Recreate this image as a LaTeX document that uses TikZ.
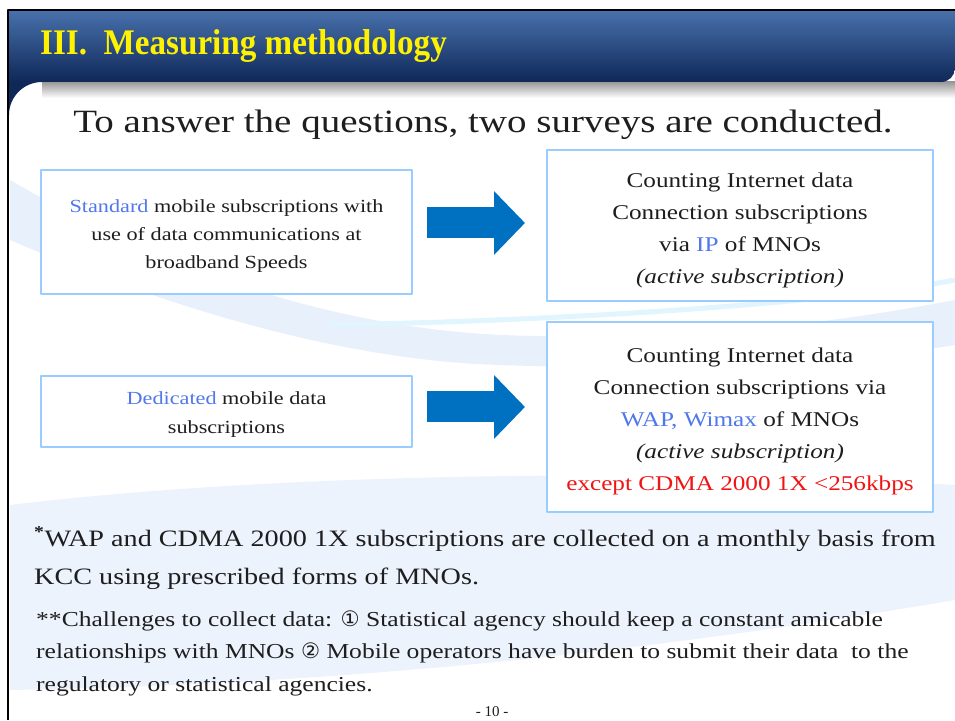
\documentclass[tikz,border=0pt]{standalone}
\usepackage{fontspec}
\setmainfont{Liberation Serif}
\newfontfamily\batang[FakeStretch=1.2]{Liberation Serif}
\newfontfamily\headfont[FakeStretch=0.92]{Liberation Serif}
\newfontfamily\symfont{DejaVu Sans}
\usetikzlibrary{arrows.meta,positioning}
\definecolor{bandtop}{RGB}{72,112,172}
\definecolor{bandmid}{RGB}{26,72,142}
\definecolor{bandbot}{RGB}{14,40,88}
\definecolor{boxline}{RGB}{153,204,255}
\definecolor{arrowblue}{RGB}{0,112,192}
\definecolor{keyblue}{RGB}{80,120,235}
\definecolor{keyred}{RGB}{240,20,20}
\definecolor{ink}{RGB}{30,30,30}
\definecolor{swooshblue}{RGB}{232,240,252}
\newcommand{\kw}[1]{\textcolor{keyblue}{#1}}

\begin{document}
\begin{tikzpicture}[x=1pt,y=1pt,line join=round,
	box/.style={draw=boxline,line width=2pt,fill=white,inner sep=0pt},
	boxtext/.style={align=center,text=ink,inner sep=0pt},
	bigarrow/.style={arrowblue,line width=31pt,-{Triangle[length=31pt,width=62pt]}},
	note/.style={anchor=base west,text=ink,inner sep=0pt}]
	\useasboundingbox (0,0) rectangle (955,720);
	\fill[white] (0,0) rectangle (955,720);
	% background swooshes
	\fill[swooshblue] (10,540) .. controls (130,470) and (300,395) .. (500,385) .. controls (700,378) and (850,400) .. (955,420) -- (955,375) .. controls (800,350) and (650,350) .. (500,355) .. controls (330,360) and (150,420) .. (10,480) -- cycle;
	\draw[cyan!12,line width=5pt] (330,395) .. controls (600,400) and (850,420) .. (955,440);
	\fill[swooshblue!80] (10,215) .. controls (300,250) and (700,250) .. (955,235) -- (955,120) .. controls (600,60) and (300,35) .. (10,30) -- cycle;
	%\draw[gray!30] (0,0) grid[step=50] (955,720);
	% header band
	\fill[bandbot] (9,638) -- (9,605) arc[start angle=180,end angle=90,radius=33] -- cycle;
	\shade[top color=black!40,bottom color=white] (42,638) rectangle (955,622);
	\shade[top color=bandtop,middle color=bandmid,bottom color=bandbot] (9,638) -- (9,709) -- (955,709) -- (955,652) arc[start angle=0,end angle=-90,radius=14] -- cycle;
	\draw[line width=2pt] (8,0) -- (8,710) -- (955,710);
	\node[anchor=base west,text=yellow,inner sep=0pt,font=\headfont\bfseries\fontsize{36}{36}\selectfont] (ttl) at (40,665) {III.\ \ Measuring methodology};
	\node[anchor=base,text=ink,inner sep=0pt,font=\batang\fontsize{32.5}{32.5}\selectfont] (sub) at (483,587) {To answer the questions, two surveys are conducted.};
	% boxes
	\node[box,minimum width=371pt,minimum height=124pt] (sA) at (226.5,488) {};
	\node[box,minimum width=386pt,minimum height=151pt] (iA) at (740,494.5) {};
	\node[box,minimum width=371pt,minimum height=71pt] (sB) at (226.5,308.5) {};
	\node[box,minimum width=386pt,minimum height=190pt] (iB) at (740,303) {};
	\node[boxtext,font=\batang\fontsize{18.5}{28}\selectfont] (sAt) at ([yshift=-4pt]sA.center) {\kw{Standard} mobile subscriptions with\\use of data communications at\\broadband Speeds};
	\node[boxtext,font=\batang\fontsize{21}{32}\selectfont] (iAt) at ([yshift=-5pt]iA.center) {Counting Internet data\\Connection subscriptions\\via \kw{IP} of MNOs\\\textit{(active subscription)}};
	\node[boxtext,font=\batang\fontsize{18.5}{29}\selectfont] (sBt) at ([yshift=-3pt]sB.center) {\kw{Dedicated} mobile data\\subscriptions};
	\node[boxtext,font=\batang\fontsize{21}{32}\selectfont] (iBt) at ([yshift=-4pt]iB.center) {Counting Internet data\\Connection subscriptions via\\\kw{WAP, Wimax} of MNOs\\\textit{(active subscription)}\\\textcolor{keyred}{except CDMA 2000 1X <256kbps}};
	\draw[bigarrow] ([shift={(14,9)}]sA.east) -- ([shift={(-21,2.5)}]iA.west);
	\draw[bigarrow] ([shift={(14,4.5)}]sB.east) -- ([shift={(-21,10)}]iB.west);
	% notes
	\node[note,font=\batang\fontsize{23.5}{23.5}\selectfont] (fnA) at (34,173) {\textsuperscript{\textbf{*}}WAP and CDMA 2000 1X subscriptions are collected on a monthly basis from};
	\node[note,font=\batang\fontsize{23.5}{23.5}\selectfont] (fnB) at (34,135) {KCC using prescribed forms of MNOs.};
	\node[note,font=\batang\fontsize{21.3}{21.3}\selectfont] (fnC) at (36,94) {**Challenges to collect data: {\symfont ①} Statistical agency should keep a constant amicable};
	\node[note,font=\batang\fontsize{21.3}{21.3}\selectfont] (fnD) at (36,62) {relationships with MNOs {\symfont ②} Mobile operators have burden to submit their data\ \ to the};
	\node[note,font=\batang\fontsize{21.3}{21.3}\selectfont] (fnE) at (36,29) {regulatory or statistical agencies.};
	\node[text=ink,font=\fontsize{15}{15}\selectfont] (pg) at (492,8) {- 10 -};
\end{tikzpicture}
\end{document}
